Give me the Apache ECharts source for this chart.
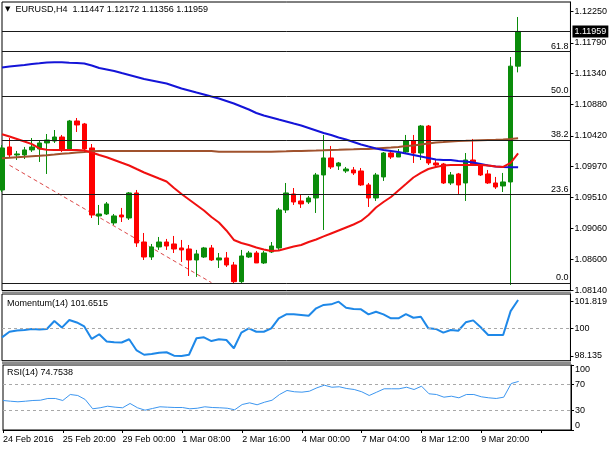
<!DOCTYPE html>
<html>
<head>
<meta charset="utf-8">
<script src="https://cdn.jsdelivr.net/npm/echarts@6/dist/echarts.min.js"></script>
<style>
html,body{margin:0;padding:0;background:#fff;}
#chart{width:610px;height:450px;}
</style>
</head>
<body>
<div id="chart"></div>
<script>
// bar times (H4), plus the empty slots to the right of the last bar
var HOURS = ['00:00','04:00','08:00','12:00','16:00','20:00'];
function dayBars(day, hours){
	var out = [];
	for (var i = 0; i < hours.length; i++){
		out.push(day + ' ' + hours[i]);
	}
	return out;
}
var categories = [].concat(
	dayBars('24 Feb', ['12:00','16:00','20:00']),
	dayBars('25 Feb', HOURS),
	dayBars('26 Feb', HOURS),
	dayBars('28 Feb', ['20:00']),
	dayBars('29 Feb', HOURS),
	dayBars('1 Mar', HOURS),
	dayBars('2 Mar', HOURS),
	dayBars('3 Mar', HOURS),
	dayBars('4 Mar', HOURS),
	dayBars('6 Mar', ['20:00']),
	dayBars('7 Mar', HOURS),
	dayBars('8 Mar', HOURS),
	dayBars('9 Mar', HOURS),
	dayBars('10 Mar', HOURS),
	dayBars('11 Mar', HOURS)
);
var firstLabel = '24 Feb 2016';
var barCount = 70;

var opens = [1.09622,1.10256,1.10138,1.10138,1.10212,1.10226,1.10315,1.10344,1.10403,1.10226,
	1.10639,1.10595,1.10241,1.09239,1.09268,1.09136,1.09253,1.09209,1.09578,1.08855,
	1.08634,1.08782,1.08855,1.08826,1.08767,1.08752,1.08590,1.08634,1.08767,1.08590,
	1.08620,1.08516,1.08270,1.08634,1.08693,1.08546,1.08708,1.08767,1.09327,1.09563,
	1.09460,1.09445,1.09504,1.09843,1.10094,1.09976,1.09902,1.09917,1.09902,1.09696,
	1.09504,1.09814,1.10167,1.10108,1.10182,1.10344,1.10167,1.10565,1.10020,1.10005,
	1.09725,1.09858,1.09725,1.10064,1.09990,1.09858,1.09725,1.09681,1.09740,1.11447];
var highs = [1.10285,1.10388,1.10197,1.10256,1.10388,1.10344,1.10447,1.10506,1.10433,1.10654,
	1.10683,1.10610,1.10300,1.09401,1.09445,1.09268,1.09357,1.09592,1.09622,1.08988,
	1.08826,1.08929,1.08900,1.08944,1.08885,1.08811,1.08738,1.08782,1.08811,1.08693,
	1.08708,1.08561,1.08738,1.08723,1.08723,1.08723,1.08855,1.09357,1.09725,1.09651,
	1.09548,1.09534,1.09873,1.10433,1.10271,1.10035,1.09961,1.09961,1.09946,1.09725,
	1.09873,1.10182,1.10212,1.10226,1.10433,1.10433,1.10580,1.10580,1.10064,1.10020,
	1.09887,1.09873,1.10167,1.10374,1.10020,1.09917,1.09814,1.09873,1.11582,1.12172];
var lows = [1.09592,1.10094,1.10064,1.10079,1.10182,1.10035,1.09858,1.10315,1.10182,1.10212,
	1.10477,1.10167,1.09209,1.09106,1.09253,1.09106,1.09150,1.09180,1.08782,1.08590,
	1.08590,1.08738,1.08738,1.08693,1.08561,1.08354,1.08340,1.08620,1.08575,1.08472,
	1.08487,1.08250,1.08250,1.08620,1.08546,1.08531,1.08693,1.08738,1.09283,1.09401,
	1.09357,1.09416,1.09283,1.09032,1.09931,1.09917,1.09873,1.09843,1.09681,1.09371,
	1.09460,1.09755,1.10079,1.10108,1.10167,1.10020,1.10064,1.09990,1.09946,1.09710,
	1.09696,1.09548,1.09460,1.09990,1.09828,1.09710,1.09637,1.09592,1.08222,1.11356];
var closes = [1.10241,1.10138,1.10153,1.10212,1.10256,1.10315,1.10359,1.10403,1.10212,1.10639,
	1.10580,1.10226,1.09253,1.09268,1.09416,1.09239,1.09224,1.09578,1.08841,1.08634,
	1.08782,1.08855,1.08796,1.08752,1.08738,1.08590,1.08679,1.08767,1.08590,1.08620,
	1.08516,1.08270,1.08649,1.08693,1.08546,1.08693,1.08796,1.09327,1.09578,1.09445,
	1.09416,1.09504,1.09843,1.10094,1.09961,1.10020,1.09931,1.09873,1.09696,1.09504,
	1.09843,1.10167,1.10108,1.10167,1.10344,1.10167,1.10565,1.10020,1.09990,1.09725,
	1.09843,1.09696,1.10064,1.10005,1.09843,1.09725,1.09666,1.09740,1.11447,1.11959];

// moving averages as drawn on the chart
var maBlue = [1.11428,1.11442,1.11453,1.11464,1.11479,1.11489,1.11501,1.11506,1.11504,1.11497,
	1.11494,1.11487,1.11457,1.11420,1.11398,1.11376,1.11346,1.11317,1.11288,1.11258,
	1.11236,1.11214,1.11192,1.11155,1.11118,1.11089,1.11059,1.11030,1.11000,1.10971,
	1.10934,1.10897,1.10853,1.10808,1.10757,1.10720,1.10691,1.10661,1.10632,1.10602,
	1.10573,1.10536,1.10499,1.10462,1.10433,1.10396,1.10366,1.10329,1.10293,1.10263,
	1.10234,1.10212,1.10197,1.10182,1.10160,1.10138,1.10116,1.10094,1.10071,1.10064,
	1.10064,1.10049,1.10042,1.10027,1.10005,1.09983,1.09968,1.09961,1.09957,1.09957];
var maRed = [1.10444,1.10410,1.10374,1.10337,1.10297,1.10234,1.10214,1.10212,1.10212,1.10212,
	1.10212,1.10205,1.10175,1.10138,1.10104,1.10064,1.10023,1.09983,1.09931,1.09880,
	1.09836,1.09791,1.09747,1.09651,1.09563,1.09482,1.09401,1.09320,1.09224,1.09143,
	1.09025,1.08885,1.08841,1.08811,1.08774,1.08745,1.08723,1.08730,1.08760,1.08789,
	1.08811,1.08855,1.08892,1.08937,1.08981,1.09025,1.09069,1.09113,1.09165,1.09253,
	1.09364,1.09445,1.09519,1.09615,1.09710,1.09806,1.09873,1.09931,1.09961,1.09983,
	1.09990,1.09990,1.09990,1.09990,1.09990,1.09983,1.09968,1.09961,1.10020,1.10160];
var maBrown = [1.10089,1.10097,1.10104,1.10111,1.10119,1.10126,1.10135,1.10145,1.10156,1.10164,
	1.10175,1.10182,1.10194,1.10197,1.10197,1.10197,1.10197,1.10197,1.10197,1.10197,
	1.10197,1.10197,1.10197,1.10197,1.10197,1.10197,1.10197,1.10197,1.10197,1.10185,
	1.10185,1.10185,1.10185,1.10185,1.10185,1.10185,1.10185,1.10189,1.10192,1.10197,
	1.10197,1.10200,1.10203,1.10207,1.10212,1.10215,1.10219,1.10222,1.10226,1.10226,
	1.10234,1.10241,1.10248,1.10256,1.10271,1.10278,1.10293,1.10307,1.10322,1.10329,
	1.10337,1.10344,1.10347,1.10351,1.10356,1.10359,1.10362,1.10366,1.10374,1.10384];

var momentum = [99.40,99.78,99.87,99.90,99.97,99.93,99.97,100.51,100.06,100.58,
	100.41,100.14,99.29,99.61,99.12,99.06,99.05,99.27,98.51,98.22,
	98.27,98.36,98.39,98.16,98.14,98.22,99.34,99.40,99.15,99.27,
	99.22,98.66,99.72,100.01,99.78,99.78,100.01,100.69,100.96,100.96,
	100.92,100.87,101.37,101.60,101.64,101.82,101.41,101.32,101.30,100.96,
	101.14,100.96,100.69,100.69,100.98,100.73,100.80,100.01,99.97,99.72,
	99.90,99.85,100.42,100.55,100.08,99.56,99.56,99.56,101.18,101.93];
var rsi = [45.4,44.3,43.4,44.3,45.4,45.8,48.5,48.5,45.4,54.6,
	53.1,46.9,32.6,34.2,36.6,35.1,34.2,40.8,34.2,30.5,
	33.1,35.7,35.1,34.6,34.6,32.6,33.5,35.7,34.6,34.2,
	33.5,31.1,39.2,41.8,38.8,42.8,45.8,54.6,60.8,58.8,
	58.2,59.7,64.9,68.9,65.8,66.5,63.8,62.3,58.8,53.1,
	58.2,63.4,63.4,63.4,65.8,62.3,67.4,55.7,54.6,50.5,
	52.0,49.5,54.6,54.6,51.1,49.5,48.5,50.5,71.5,74.75];

// drawing objects
var fibNames = ['0.0','23.6','38.2','50.0','61.8'];
var fibPrices = [1.08251,1.09553,1.10358,1.11009,1.11660];
var trendIdx = [1, 28];
var trendPrice = [1.09987, 1.08256];

// axis ticks
var priceTicks = [1.08140,1.08600,1.09060,1.09510,1.09970,1.10420,1.10880,1.11340,1.11790,1.12250];
var momTicks = [98.135, 100, 101.819];
var rsiTicks = [0, 30, 70, 100];

var FONT = 'Liberation Sans';
var FS = 9;
var BULL = '#0A8C0A';
var BEAR = '#FF0000';

var candleData = [];
for (var i = 0; i < barCount; i++){
	candleData.push([opens[i], closes[i], lows[i], highs[i]]);
}
var last = barCount - 1;
var header = '{t|\u25BC}  EURUSD,H4  ' + opens[last].toFixed(5) + ' ' + highs[last].toFixed(5) + ' ' +
	lows[last].toFixed(5) + ' ' + closes[last].toFixed(5);

var fibLines = [];
for (var k = 0; k < fibNames.length; k++){
	fibLines.push({ yAxis: fibPrices[k], name: fibNames[k] });
}
var bidLine = [{
	yAxis: closes[last],
	name: closes[last].toFixed(5),
	label: { position: 'end', distance: 2, color: '#fff', backgroundColor: '#000', padding: [2, 2, 1, 2],
		fontFamily: FONT, fontSize: FS, formatter: '{b}' }
}];

var trendData = [];
for (var t = 0; t < trendIdx.length; t++){
	trendData.push([trendIdx[t], trendPrice[t]]);
}

function catAxis(gridIndex, showLabels){
	return {
		type: 'category',
		gridIndex: gridIndex,
		data: categories,
		boundaryGap: false,
		axisLine: { show: showLabels, lineStyle: { color: '#000', width: 1 } },
		axisTick: { show: showLabels, interval: 7, length: 3, lineStyle: { color: '#000' } },
		splitLine: { show: false },
		axisLabel: {
			show: showLabels,
			interval: 7,
			align: 'left',
			margin: 5,
			color: '#000',
			fontFamily: FONT,
			fontSize: FS,
			formatter: function(val, idx){
				if (idx >= barCount) return '';
				return idx === 0 ? firstLabel : val;
			}
		}
	};
}

function valAxis(gridIndex, min, max, ticks, fmt){
	return {
		type: 'value',
		gridIndex: gridIndex,
		position: 'right',
		min: min,
		max: max,
		scale: true,
		splitLine: { show: false },
		axisLine: { show: true, lineStyle: { color: '#000', width: 1 } },
		axisTick: { show: true, length: 3, customValues: ticks, lineStyle: { color: '#000' } },
		axisLabel: {
			customValues: ticks,
			margin: 4,
			color: '#000',
			fontFamily: FONT,
			fontSize: FS,
			formatter: fmt
		}
	};
}

function maSeries(data, color){
	return {
		type: 'line',
		xAxisIndex: 0,
		yAxisIndex: 0,
		data: data,
		showSymbol: false,
		silent: true,
		lineStyle: { color: color, width: 2 },
		z: 3
	};
}

function hLines(data, lineStyle, label){
	return {
		silent: true,
		symbol: ['none', 'none'],
		animation: false,
		precision: 5,
		lineStyle: lineStyle,
		label: label,
		data: data
	};
}

var dashedRef = { type: [3, 3], color: '#a8a8a8', width: 1 };
var fibLabel = { position: 'insideEndTop', distance: [2, 1], formatter: '{b}', color: '#000',
	fontFamily: FONT, fontSize: FS };

var myChart = echarts.init(document.getElementById('chart'), null, { renderer: 'canvas' });
myChart.setOption({
	animation: false,
	backgroundColor: '#fff',
	textStyle: { fontFamily: FONT },
	title: [
		{ text: header, left: 5, top: 5, padding: 0,
			textStyle: { fontSize: FS, fontWeight: 'normal', color: '#000', fontFamily: FONT,
				rich: { t: { fontSize: 7, color: '#000', fontFamily: 'DejaVu Sans' } } } },
		{ text: 'Momentum(14) 101.6515', left: 7, top: 299, padding: 0,
			textStyle: { fontSize: FS, fontWeight: 'normal', color: '#000', fontFamily: FONT } },
		{ text: 'RSI(14) 74.7538', left: 7, top: 368, padding: 0,
			textStyle: { fontSize: FS, fontWeight: 'normal', color: '#000', fontFamily: FONT } }
	],
	graphic: [
		{ type: 'rect', shape: { x: 2, y: 291.5, width: 569, height: 2.5 }, style: { fill: '#8c8c8c' }, silent: true },
		{ type: 'rect', shape: { x: 2, y: 361.5, width: 569, height: 3 }, style: { fill: '#8c8c8c' }, silent: true }
	],
	grid: [
		{ left: 2, top: 2, width: 569, height: 288.5, show: true, borderColor: '#000', borderWidth: 1 },
		{ left: 2, top: 294, width: 569, height: 66.7, show: true, borderColor: '#000', borderWidth: 1 },
		{ left: 2, top: 365, width: 569, height: 65, show: true, borderColor: '#000', borderWidth: 1 }
	],
	xAxis: [catAxis(0, false), catAxis(1, false), catAxis(2, true)],
	yAxis: [
		valAxis(0, 1.0814, 1.12393, priceTicks, function(v){ return v.toFixed(5); }),
		valAxis(1, 97.816, 102.34, momTicks, function(v){ return String(v); }),
		(function(){
			var ax = valAxis(2, 0, 100, rsiTicks, function(v){ return String(v); });
			ax.axisLabel.verticalAlignMinLabel = 'bottom';
			ax.axisLabel.verticalAlignMaxLabel = 'top';
			return ax;
		})()
	],
	series: [
		{
			type: 'candlestick',
			xAxisIndex: 0,
			yAxisIndex: 0,
			data: candleData,
			barWidth: 5,
			silent: true,
			itemStyle: { color: BULL, color0: BEAR, borderColor: BULL, borderColor0: BEAR, borderWidth: 1 },
			z: 2
		},
		{
			// trend line, also carries the fibonacci levels and the bid line
			type: 'line',
			xAxisIndex: 0,
			yAxisIndex: 0,
			data: trendData,
			showSymbol: false,
			silent: true,
			lineStyle: { color: '#DC4848', width: 1, type: [4, 3] },
			z: 1,
			markLine: hLines(fibLines.concat(bidLine), { color: '#1a1a1a', width: 1, type: 'solid' }, fibLabel)
		},
		maSeries(maBrown, '#A0522D'),
		maSeries(maBlue, '#1414D8'),
		maSeries(maRed, '#F01010'),
		{
			type: 'line',
			xAxisIndex: 1,
			yAxisIndex: 1,
			data: momentum,
			showSymbol: false,
			silent: true,
			lineStyle: { color: '#1E88E8', width: 2 },
			markLine: hLines([{ yAxis: 100 }], dashedRef, { show: false })
		},
		{
			type: 'line',
			xAxisIndex: 2,
			yAxisIndex: 2,
			data: rsi,
			showSymbol: false,
			silent: true,
			lineStyle: { color: '#3C96F0', width: 1 },
			markLine: hLines([{ yAxis: 70 }, { yAxis: 30 }], dashedRef, { show: false })
		}
	]
});
</script>
</body>
</html>
